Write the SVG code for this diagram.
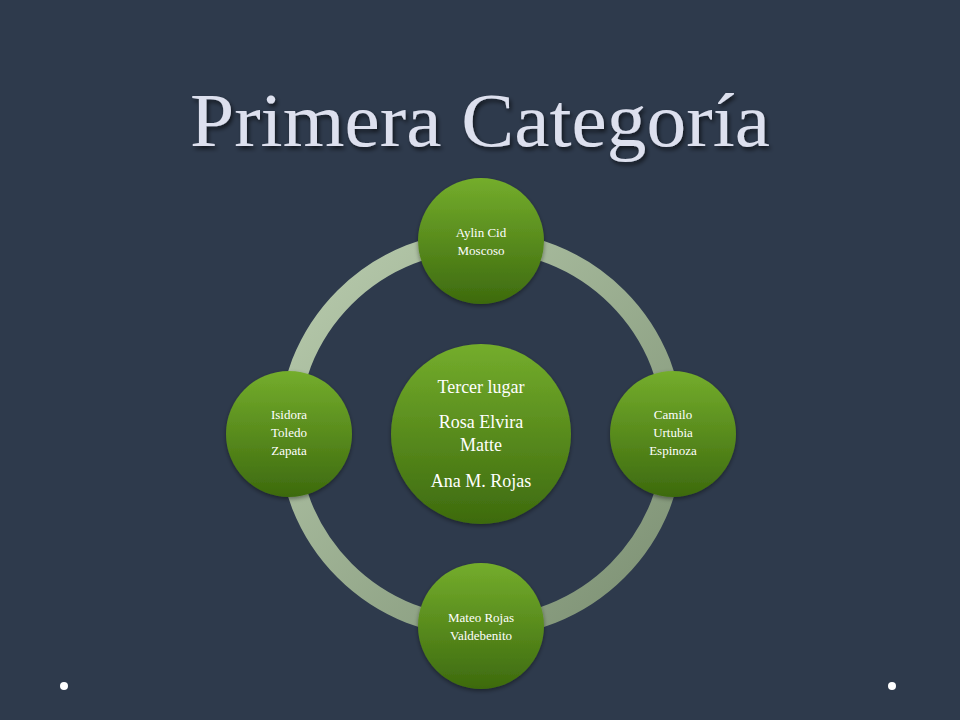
<svg xmlns="http://www.w3.org/2000/svg" width="960" height="720" viewBox="0 0 960 720">
<defs>
<linearGradient id="g" x1="0" y1="0" x2="0" y2="1"><stop offset="0" stop-color="#74ad2c"/><stop offset="1" stop-color="#3d6a0e"/></linearGradient>
<linearGradient id="r" x1="0" y1="0" x2="1" y2="1"><stop offset="0" stop-color="#b9ccae"/><stop offset="1" stop-color="#7b8f72"/></linearGradient>
<filter id="sh" x="-10%" y="-10%" width="130%" height="130%"><feDropShadow dx="2" dy="3" stdDeviation="2" flood-color="#000" flood-opacity="0.6"/></filter>
<filter id="ns" x="-20%" y="-20%" width="140%" height="140%"><feDropShadow dx="0" dy="2" stdDeviation="2" flood-color="#000" flood-opacity="0.4"/></filter>
</defs>
<style>
.n{fill:url(#g);filter:url(#ns)}
.t{font-family:"Liberation Serif","DejaVu Serif",serif;fill:#fff;text-anchor:middle;font-size:13px}
.c{font-size:18px}
</style>
<rect width="960" height="720" fill="#2e3a4c"/>
<text x="480" y="146" font-family="Liberation Serif,serif" font-size="76" fill="#dde0ee" text-anchor="middle" textLength="580" lengthAdjust="spacingAndGlyphs" filter="url(#sh)">Primera Categoría</text>
<g id="connectors"><circle cx="481" cy="434" r="193" fill="none" stroke="url(#r)" stroke-width="20"/></g>
<g id="center"><circle class="n" cx="481" cy="434" r="90"/>
<text class="t c" x="481" y="393">Tercer lugar</text><text class="t c" x="481" y="428">Rosa Elvira</text><text class="t c" x="481" y="451">Matte</text><text class="t c" x="481" y="487">Ana M. Rojas</text></g>
<g id="top"><circle class="n" cx="481" cy="241" r="63"/><text class="t" x="481" y="237">Aylin Cid</text><text class="t" x="481" y="255">Moscoso</text></g>
<g id="right"><circle class="n" cx="673" cy="434" r="63"/><text class="t" x="673" y="419">Camilo</text><text class="t" x="673" y="437">Urtubia</text><text class="t" x="673" y="455">Espinoza</text></g>
<g id="bottom"><circle class="n" cx="481" cy="626" r="63"/><text class="t" x="481" y="622">Mateo Rojas</text><text class="t" x="481" y="640">Valdebenito</text></g>
<g id="left"><circle class="n" cx="289" cy="434" r="63"/><text class="t" x="289" y="419">Isidora</text><text class="t" x="289" y="437">Toledo</text><text class="t" x="289" y="455">Zapata</text></g>
<circle cx="64" cy="686" r="4" fill="#fff"/><circle cx="892" cy="686" r="4" fill="#fff"/>
</svg>
